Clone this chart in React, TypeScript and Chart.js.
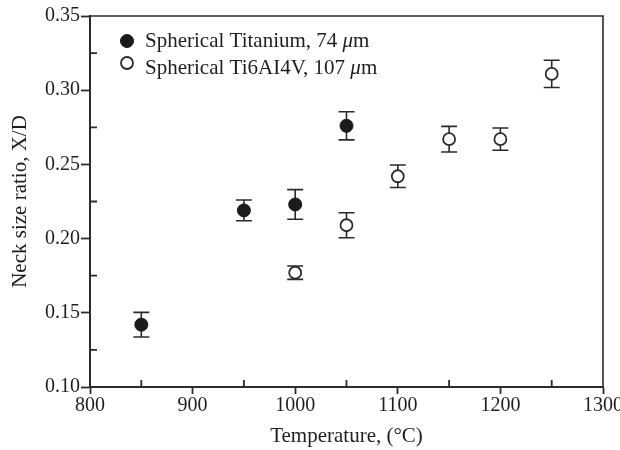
import React, { useEffect, useRef } from "react";
import { Chart, registerables } from "chart.js";

Chart.register(...registerables);

// ---- Data ----
const titaniumLabel = "Spherical Titanium, 74 μm";
const titaniumTemps = [850, 950, 1000, 1050];
const titaniumValues = [0.142, 0.219, 0.223, 0.276];
const titaniumErrors = [0.0083, 0.007, 0.01, 0.0095];

const alloyLabel = "Spherical Ti6AI4V, 107 μm";
const alloyTemps = [1000, 1050, 1100, 1150, 1200, 1250];
const alloyValues = [0.177, 0.209, 0.242, 0.267, 0.267, 0.311];
const alloyErrors = [0.0045, 0.0084, 0.0076, 0.0086, 0.0075, 0.0092];

const xMinorTicks = [850, 950, 1050, 1150, 1250];
const yMinorTicks = [0.125, 0.175, 0.225, 0.275, 0.325];

const xTitle = "Temperature, (°C)";
const yTitle = "Neck size ratio, X/D";

const FONT = '"Liberation Serif", "Times New Roman", serif';
const INK = "#2b2b2b";
const TEXT = "#1e1e1e";

const errorBarPlugin = {
  id: "errorBars",
  beforeDatasetsDraw(chart: any) {
    const { ctx } = chart;
    const yScale = chart.scales.y;
    chart.data.datasets.forEach((ds: any, i: number) => {
      const meta = chart.getDatasetMeta(i);
      meta.data.forEach((el: any, j: number) => {
        const v = ds.data[j].y;
        const e = ds.errors[j];
        const yt = yScale.getPixelForValue(v + e);
        const yb = yScale.getPixelForValue(v - e);
        const x = el.x;
        const cap = 8;
        ctx.save();
        ctx.strokeStyle = INK;
        ctx.lineWidth = 1.6;
        ctx.beginPath();
        ctx.moveTo(x, yt);
        ctx.lineTo(x, yb);
        ctx.moveTo(x - cap, yt);
        ctx.lineTo(x + cap, yt);
        ctx.moveTo(x - cap, yb);
        ctx.lineTo(x + cap, yb);
        ctx.stroke();
        ctx.restore();
      });
    });
  },
};

const framePlugin = {
  id: "frame",
  afterDatasetsDraw(chart: any) {
    const { ctx, chartArea } = chart;
    const { left, right, top, bottom } = chartArea;
    const xs = chart.scales.x;
    const ys = chart.scales.y;
    ctx.save();
    ctx.strokeStyle = INK;
    ctx.lineWidth = 1.6;
    ctx.beginPath();
    ctx.moveTo(left, top);
    ctx.lineTo(right, top);
    ctx.lineTo(right, bottom);
    ctx.stroke();
    ctx.lineWidth = 1.8;
    ctx.beginPath();
    xMinorTicks.forEach((t) => {
      const px = xs.getPixelForValue(t);
      ctx.moveTo(px, bottom);
      ctx.lineTo(px, bottom - 7);
    });
    yMinorTicks.forEach((t) => {
      const py = ys.getPixelForValue(t);
      ctx.moveTo(left, py);
      ctx.lineTo(left + 7, py);
    });
    ctx.stroke();
    ctx.restore();
  },
};

const legendPlugin = {
  id: "customLegend",
  afterDraw(chart: any) {
    const { ctx, chartArea } = chart;
    chart.data.datasets.forEach((ds: any, i: number) => {
      const cx = chartArea.left + 37;
      const cy = chartArea.top + 25 + i * 22;
      ctx.save();
      ctx.beginPath();
      ctx.arc(cx, cy, ds.pointRadius, 0, Math.PI * 2);
      ctx.fillStyle = ds.pointBackgroundColor;
      ctx.fill();
      ctx.lineWidth = ds.pointBorderWidth;
      ctx.strokeStyle = ds.pointBorderColor;
      ctx.stroke();

      const baseY = chartArea.top + 30.7 + i * 27.3;
      let x = chartArea.left + 55;
      const parts = String(ds.label).split("μ");
      ctx.fillStyle = TEXT;
      ctx.textBaseline = "alphabetic";
      ctx.textAlign = "left";
      ctx.font = `21px ${FONT}`;
      ctx.fillText(parts[0], x, baseY);
      x += ctx.measureText(parts[0]).width;
      if (parts.length > 1) {
        ctx.font = `italic 21px ${FONT}`;
        ctx.fillText("μ", x, baseY);
        x += ctx.measureText("μ").width;
        ctx.font = `21px ${FONT}`;
        ctx.fillText(parts[1], x, baseY);
      }
      ctx.restore();
    });
  },
};

const bgPlugin = {
  id: "bg",
  beforeDraw(chart: any) {
    const { ctx, width, height } = chart;
    ctx.save();
    ctx.fillStyle = "#ffffff";
    ctx.fillRect(0, 0, width, height);
    ctx.restore();
  },
};

export default function App() {
  const canvasRef = useRef<HTMLCanvasElement | null>(null);

  useEffect(() => {
    const canvas = canvasRef.current;
    if (!canvas) return;
    const chart = new Chart(canvas, {
      type: "scatter",
      data: {
        datasets: [
          {
            label: titaniumLabel,
            data: titaniumTemps.map((t, i) => ({ x: t, y: titaniumValues[i] })),
            errors: titaniumErrors,
            pointRadius: 6.5,
            pointBackgroundColor: "#1b1b1b",
            pointBorderColor: "#1b1b1b",
            pointBorderWidth: 1,
            pointHoverRadius: 6.5,
          } as any,
          {
            label: alloyLabel,
            data: alloyTemps.map((t, i) => ({ x: t, y: alloyValues[i] })),
            errors: alloyErrors,
            pointRadius: 6,
            pointBackgroundColor: "#ffffff",
            pointBorderColor: INK,
            pointBorderWidth: 1.8,
            pointHoverRadius: 6,
          } as any,
        ],
      },
      options: {
        responsive: false,
        animation: false,
        events: [],
        layout: { padding: { top: 16, right: 17, left: 0, bottom: 0 } },
        plugins: {
          legend: { display: false },
          tooltip: { enabled: false },
        },
        scales: {
          x: {
            type: "linear",
            min: 800,
            max: 1300,
            afterFit(scale: any) {
              scale.height = 63;
              scale.paddingLeft = 0;
              scale.paddingRight = 0;
            },
            ticks: {
              stepSize: 100,
              padding: 0,
              color: TEXT,
              font: { family: FONT, size: 20 },
              maxRotation: 0,
              callback: (v: any) => String(v),
            },
            grid: {
              drawOnChartArea: false,
              drawTicks: true,
              tickLength: 7,
              tickColor: INK,
              tickWidth: 1.8,
            },
            border: { display: true, color: INK, width: 2 },
            title: {
              display: true,
              text: xTitle,
              color: TEXT,
              font: { family: FONT, size: 21 },
              padding: { top: 0, bottom: 1 },
            },
          },
          y: {
            type: "linear",
            min: 0.1,
            max: 0.35,
            afterFit(scale: any) {
              scale.width = 90;
              scale.paddingTop = 0;
              scale.paddingBottom = 0;
            },
            ticks: {
              stepSize: 0.05,
              padding: 1,
              color: TEXT,
              font: { family: FONT, size: 20 },
              callback: (v: any) => Number(v).toFixed(2),
            },
            grid: {
              drawOnChartArea: false,
              drawTicks: true,
              tickLength: 9,
              tickColor: INK,
              tickWidth: 1.8,
            },
            border: { display: true, color: INK, width: 2 },
            title: {
              display: true,
              text: yTitle,
              color: TEXT,
              font: { family: FONT, size: 21 },
              padding: { top: 8, bottom: 0 },
            },
          },
        },
      },
      plugins: [bgPlugin, errorBarPlugin, framePlugin, legendPlugin],
    } as any);
    return () => chart.destroy();
  }, []);

  return (
    <div style={{ position: "absolute", left: 0, top: 0, width: 620, height: 450 }}>
      <canvas ref={canvasRef} width={620} height={450} style={{ display: "block" }} />
    </div>
  );
}
